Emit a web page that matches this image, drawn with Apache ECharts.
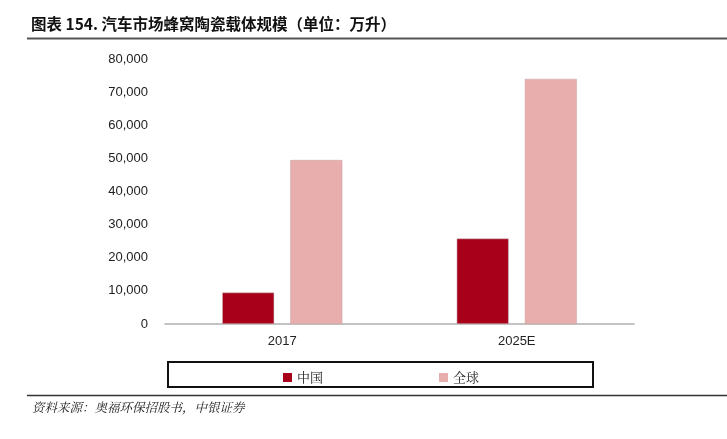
<!DOCTYPE html>
<html><head><meta charset="utf-8">
<script src="https://cdn.jsdelivr.net/npm/echarts@6/dist/echarts.min.js"></script>
<style>html,body{margin:0;padding:0;background:#fff}#c{width:727px;height:439px}</style>
</head><body><div id="c"></div>
<script>
const categories = ['2017', '2025E'];
const chinaValues = [9500, 25800];
const globalValues = [49500, 74000];
const seriesNames = ['中国', '全球'];
const titleText = '图表 154. 汽车市场蜂窝陶瓷载体规模（单位：万升）';
const sourceText = '资料来源：奥福环保招股书，中银证券';

const chart = echarts.init(document.getElementById('c'));
chart.setOption({
  animation: false,
  backgroundColor: '#fff',
  title: {
    text: titleText, left: 26, top: 11,
    textStyle: {fontFamily: 'Noto Sans CJK SC', fontWeight: 'bold', fontSize: 15.5, color: '#111'}
  },
  grid: {left: 165, right: 93, top: 59, bottom: 115},
  xAxis: {
    type: 'category', data: categories,
    axisLine: {lineStyle: {color: '#b0b0b0', width: 1.5}},
    axisTick: {show: false},
    axisLabel: {fontFamily: 'Liberation Sans', fontSize: 13, color: '#222', margin: 11}
  },
  yAxis: {
    type: 'value', min: 0, max: 80000, interval: 10000,
    axisLine: {show: false}, axisTick: {show: false}, splitLine: {show: false},
    axisLabel: {fontFamily: 'Liberation Sans', fontSize: 13, color: '#222', margin: 17,
      formatter: v => v.toLocaleString('en-US')}
  },
  legend: {
    data: seriesNames, left: 278, top: 366, itemGap: 116, itemWidth: 9, itemHeight: 9,
    icon: 'rect', itemStyle: {borderWidth: 0},
    textStyle: {fontFamily: 'Noto Serif CJK SC, Noto Sans CJK SC', fontSize: 13, color: '#222'}
  },
  series: [
    {name: seriesNames[0], type: 'bar', data: chinaValues, barWidth: 52, barGap: '31%',
      itemStyle: {color: '#a8001a', borderColor: '#c9c9c9', borderWidth: 0.5}},
    {name: seriesNames[1], type: 'bar', data: globalValues, barWidth: 52,
      itemStyle: {color: '#e8aeae', borderColor: '#c9a0a0', borderWidth: 0.5}}
  ],
  graphic: [
    {type: 'line', shape: {x1: 27, y1: 38.5, x2: 727, y2: 38.5}, style: {stroke: '#555', lineWidth: 2}},
    {type: 'rect', shape: {x: 168, y: 362, width: 425, height: 25}, style: {fill: 'none', stroke: '#111', lineWidth: 2}},
    {type: 'line', shape: {x1: 27, y1: 395.5, x2: 727, y2: 395.5}, style: {stroke: '#333', lineWidth: 1.5}},
    {type: 'text', left: 32, top: 401, style: {text: sourceText, fontFamily: 'Noto Serif CJK SC, Noto Sans CJK SC', fontStyle: 'italic', fontSize: 12.5, fill: '#222'}}
  ]
});
</script></body></html>
